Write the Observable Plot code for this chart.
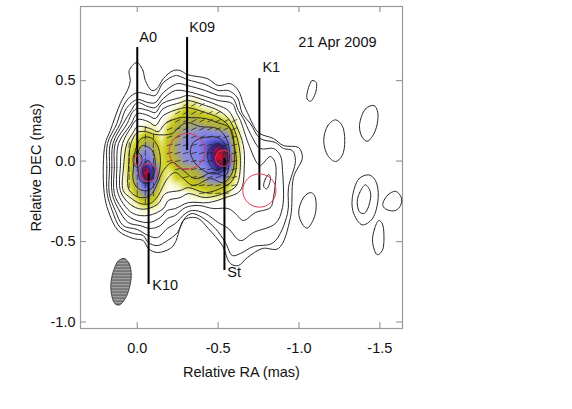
<!DOCTYPE html>
<html><head><meta charset="utf-8">
<script src="https://cdn.jsdelivr.net/npm/d3@7"></script>
<script src="https://cdn.jsdelivr.net/npm/@observablehq/plot@0.6"></script>
<style>html,body{margin:0;padding:0;background:#fff}</style>
</head><body><div id="chart"></div>
<script>
// Contours: [RA mas, DEC mas]
const c1=[[.002,.612],[-.035,.562],[-.05,.5],[-.091,.438],[-.122,.45],[-.161,.512],[-.223,.562],[-.266,.562],[-.31,.537],[-.433,.512],[-.501,.469],[-.576,.481],[-.625,.438],[-.656,.357],[-.681,.301],[-.749,.177],[-.842,.14],[-.904,.096],[-.997,.084],[-1.021,.022],[-.966,-.102],[-.947,-.351],[-.873,-.543],[-.774,-.543],[-.681,-.599],[-.625,-.649],[-.576,-.637],[-.526,-.525],[-.439,-.419],[-.378,-.357],[-.328,-.351],[-.285,-.369],[-.235,-.506],[-.204,-.543],[-.124,-.568],[-.068,-.543],[-.037,-.494],[.025,-.481],[.118,-.432],[.18,-.307],[.204,-.202],[.21,-.028],[.198,.109],[.167,.189],[.105,.357],[.056,.45],[.043,.5],[.05,.562]];
const c2=[[.186,-.202],[.188,-.04],[.184,.109],[.126,.233],[.099,.314],[.056,.388],[0,.425],[-.068,.413],[-.111,.407],[-.161,.487],[-.235,.531],[-.266,.525],[-.31,.506],[-.421,.475],[-.501,.438],[-.563,.438],[-.619,.394],[-.65,.295],[-.699,.233],[-.761,.14],[-.854,.115],[-.904,.078],[-.959,.065],[-.978,.003],[-.935,-.165],[-.929,-.326],[-.842,-.506],[-.718,-.531],[-.638,-.574],[-.588,-.587],[-.545,-.506],[-.483,-.419],[-.402,-.351],[-.34,-.326],[-.297,-.351],[-.248,-.444],[-.186,-.494],[-.124,-.525],[-.068,-.506],[-.037,-.463],[.025,-.45],[.105,-.413],[.155,-.307]];
const c3=[[.173,-.202],[.171,-.04],[.167,.109],[.105,.233],[.068,.326],[0,.382],[-.068,.363],[-.111,.363],[-.161,.425],[-.248,.481],[-.31,.469],[-.421,.438],[-.501,.407],[-.588,.394],[-.625,.314],[-.656,.264],[-.699,.171],[-.761,.078],[-.842,.078],[-.885,.034],[-.898,-.059],[-.898,-.289],[-.854,-.388],[-.718,-.444],[-.638,-.494],[-.563,-.419],[-.501,-.382],[-.421,-.326],[-.34,-.307],[-.297,-.326],[-.235,-.388],[-.186,-.419],[-.124,-.475],[-.068,-.463],[0,-.425],[.087,-.401],[.136,-.307]];
const c4=[[.155,-.202],[.157,-.04],[.15,.109],[.087,.233],[.037,.314],[0,.363],[-.068,.338],[-.111,.332],[-.161,.388],[-.235,.438],[-.31,.432],[-.421,.401],[-.501,.376],[-.588,.357],[-.613,.301],[-.638,.252],[-.687,.109],[-.743,-.016],[-.761,-.028],[-.823,.028],[-.854,-.016],[-.842,-.227],[-.823,-.289],[-.73,-.32],[-.656,-.369],[-.607,-.326],[-.563,-.295],[-.47,-.295],[-.378,-.276],[-.297,-.289],[-.235,-.338],[-.186,-.357],[-.142,-.401],[-.08,-.419],[-.019,-.401],[.056,-.382],[.118,-.295]];
const c5=[[.142,-.202],[.142,-.04],[.136,.109],[.062,.233],[.031,.301],[0,.326],[-.068,.314],[-.111,.301],[-.155,.357],[-.266,.394],[-.31,.407],[-.421,.376],[-.501,.345],[-.563,.314],[-.613,.22],[-.656,.096],[-.662,-.028],[-.638,-.183],[-.545,-.227],[-.439,-.258],[-.316,-.258],[-.235,-.295],[-.186,-.307],[-.142,-.351],[-.068,-.382],[.043,-.351],[.099,-.289]];
const c6=[[.124,-.183],[.126,-.04],[.116,.109],[.037,.233],[0,.295],[-.068,.283],[-.111,.264],[-.161,.326],[-.266,.363],[-.31,.376],[-.421,.345],[-.501,.314],[-.563,.264],[-.613,.158],[-.638,.003],[-.613,-.152],[-.545,-.196],[-.421,-.227],[-.316,-.202],[-.266,-.227],[-.192,-.245],[-.161,-.295],[-.068,-.338],[.025,-.326],[.087,-.264]];
const c7=[[.105,-.183],[.105,-.04],[.091,.109],[.043,.202],[0,.258],[-.068,.245],[-.111,.22],[-.161,.283],[-.266,.326],[-.31,.332],[-.421,.301],[-.501,.27],[-.563,.22],[-.6,.096],[-.613,-.028],[-.588,-.121],[-.526,-.165],[-.421,-.196],[-.316,-.165],[-.266,-.183],[-.173,-.202],[-.13,-.264],[-.068,-.295],[-.006,-.295],[.056,-.258]];
const c8=[[.087,-.183],[.085,-.04],[.064,.109],[.025,.177],[0,.214],[-.08,.202],[-.13,.183],[-.173,.233],[-.266,.27],[-.31,.27],[-.421,.264],[-.495,.239],[-.576,.202],[-.6,.053],[-.588,-.071],[-.532,-.134],[-.452,-.109],[-.347,-.152],[-.285,-.109],[-.235,-.071],[-.186,-.109],[-.155,-.165],[-.13,-.214],[-.08,-.264],[-.019,-.264],[.043,-.227]];
const c9=[[.056,-.165],[.054,-.04],[.039,.109],[0,.177],[-.05,.183],[-.111,.165],[-.217,.171],[-.254,.208],[-.31,.239],[-.39,.214],[-.495,.202],[-.557,.127],[-.569,.003],[-.545,-.09],[-.464,-.071],[-.359,-.109],[-.285,-.059],[-.217,-.009],[-.161,-.059],[-.124,-.14],[-.08,-.214],[-.019,-.227],[.031,-.202]];
const c10=[[.025,-.121],[.023,-.04],[.012,.065],[-.025,.14],[-.08,.146],[-.13,.084],[-.142,-.028],[-.111,-.14],[-.068,-.183],[-.006,-.171]];
const c11=[[-.006,-.059],[0,.034],[-.031,.096],[-.093,.065],[-.111,-.028],[-.093,-.109],[-.056,-.14],[-.019,-.121]];
const a0Ring=[[0,.053],[-.025,.034],[-.025,-.016],[0,-.04],[.022,-.016],[.022,.034]];
const k10Ring=[[-.037,-.028],[-.068,.003],[-.099,-.059],[-.08,-.121],[-.05,-.109]];
const r1=[[-.39,.14],[-.501,.146],[-.551,.084],[-.551,-.028],[-.514,-.071],[-.452,-.078],[-.371,-.028],[-.328,.053],[-.347,.115]];
const r2=[[-.439,.065],[-.501,.109],[-.539,.065],[-.539,-.016],[-.501,-.059],[-.452,-.028]];
const r3=[[-.483,.053],[-.52,.078],[-.532,.034],[-.52,-.016],[-.489,.003]];
const e1=[[-1.106,.489],[-1.081,.5],[-1.054,.438],[-1.05,.386],[-1.071,.371],[-1.096,.407],[-1.108,.45]];
const e2=[[-1.226,.256],[-1.178,.22],[-1.153,.127],[-1.178,.034],[-1.226,-.003],[-1.267,.034],[-1.283,.127],[-1.267,.22]];
const e3=[[-1.463,.345],[-1.411,.324],[-1.374,.22],[-1.391,.148],[-1.422,.123],[-1.463,.169],[-1.487,.252],[-1.484,.314]];
const e4=[[-1.071,-.196],[-1.029,-.225],[-.998,-.318],[-1.02,-.39],[-1.05,-.417],[-1.091,-.359],[-1.106,-.287],[-1.096,-.214]];
const e5=[[-1.432,-.086],[-1.37,-.111],[-1.329,-.235],[-1.339,-.328],[-1.391,-.396],[-1.453,-.359],[-1.49,-.225],[-1.473,-.121]];
const e6=[[-1.411,-.148],[-1.376,-.194],[-1.36,-.256],[-1.376,-.318],[-1.405,-.324],[-1.432,-.276],[-1.442,-.194]];
const e7=[[-1.597,-.188],[-1.546,-.214],[-1.518,-.276],[-1.546,-.303],[-1.597,-.307],[-1.628,-.276],[-1.632,-.225]];
const e8=[[-1.494,-.369],[-1.467,-.421],[-1.455,-.504],[-1.484,-.582],[-1.515,-.556],[-1.525,-.452],[-1.515,-.39]];
const k1Blob=[[-.813,-.084],[-.792,-.111],[-.782,-.158],[-.799,-.173],[-.817,-.142],[-.823,-.101]];
const contours=[c1,c2,c3,c4,c5,c6,c7,c8,c9,c10,c11,a0Ring,k10Ring,r1,r2,r3,e1,e2,e3,e4,e5,e6,e7,e8,k1Blob];

// Restoring beam outline
const beam=[[.08,-.605],[.05,-.637],[.037,-.711],[.05,-.792],[.074,-.854],[.111,-.894],[.139,-.885],[.161,-.817],[.161,-.742],[.142,-.668],[.115,-.618]];

// Polarized intensity read on a grid (0..10)
const gridRA=[.15,.1,.05,0,-.05,-.1,-.15,-.2,-.25,-.3,-.35,-.4,-.45,-.5,-.55,-.6,-.65];
const gridDEC=[.4,.35,.3,.25,.2,.15,.1,.05,0,-.05,-.1,-.15,-.2,-.25,-.3,-.35];
const polGrid=[
[0,0,0,0,0,0,0,0,0,0,0,0,0,0,0,0,0],
[0,0,0,0,0,0,0,0,0,1,1,0,0,0,0,0,0],
[0,0,0,0,0,0,0,0,1,2.5,2.5,1.5,1,.5,0,0,0],
[0,0,0,0,0,0,0,1,2.5,3,3,2.5,2.5,2.5,1.5,.5,0],
[0,0,0,0,.8,.5,0,2,3,3.5,3.5,4,3.5,3,3,1.5,0],
[0,0,.2,1,2.5,2,.3,2.5,3,4,4.5,5,5.5,5.5,5,2,.3],
[0,0,.8,2,3.5,3,1,2.5,3.5,4.5,5,5.5,7,8,7.5,2.5,.3],
[0,0,1.2,3,5,3.5,1.2,2.5,3.5,4.5,5,5.5,7.5,10,9,2.5,.3],
[0,0,1.5,4,6.5,4,1.2,2,3,4,4.5,5,7,9.5,9,2.5,.3],
[0,0,1.5,5,9.5,7,1.5,1,2.5,3,3,4,6,8,7,2,0],
[0,0,1.2,4.5,10,7,1.5,.5,2,2,2.5,3,4.5,5.5,4.5,1.2,0],
[0,0,1,3.5,7,5,1,0,.5,1.5,2,2.5,3,3,2.5,.5,0],
[0,0,.5,2.5,4.5,3,.3,0,0,0,.5,1,1.5,1.5,1,0,0],
[0,0,0,1,2.5,1.5,0,0,0,0,0,0,0,0,0,0,0],
[0,0,0,0,.5,.3,0,0,0,0,0,0,0,0,0,0,0],
[0,0,0,0,0,0,0,0,0,0,0,0,0,0,0,0,0]];
const colorStops=[0,.6,1.8,3,4,5.5,7,8,9,10];
const colorRange=["#ffffff","#f2f2b0","#cccc10","#aeae48","#9090d8","#7c7ce8","#4c4cc4","#1c1c80","#c01048","#e80018"];

// EVPA ticks: rows of RA at a DEC, with position angle
const evpaRows=[
{dec:.35,angle:60,ra:[-.3,-.35,-.4]},
{dec:.3,angle:60,ra:[-.25,-.3,-.35,-.4,-.45,-.5]},
{dec:.25,angle:62,ra:[-.2,-.25,-.3,-.35,-.4,-.45,-.5,-.55,-.6]},
{dec:.2,angle:65,ra:[-.2,-.25,-.3,-.35,-.4,-.45,-.5,-.55,-.6]},
{dec:.15,angle:70,ra:[-.2,-.25,-.3,-.35,-.4,-.45,-.5,-.55,-.6]},
{dec:.1,angle:74,ra:[-.2,-.25,-.3,-.35,-.4,-.45,-.5,-.55,-.6]},
{dec:.05,angle:75,ra:[-.2,-.25,-.3,-.35,-.4,-.45,-.5,-.55,-.6]},
{dec:0,angle:76,ra:[-.2,-.25,-.3,-.35,-.4,-.45,-.5,-.55,-.6]},
{dec:-.05,angle:76,ra:[-.25,-.3,-.35,-.4,-.45,-.5,-.55,-.6]},
{dec:-.1,angle:78,ra:[-.3,-.35,-.4,-.45,-.5,-.55,-.6]},
{dec:-.15,angle:80,ra:[-.35,-.4,-.45,-.5,-.55,-.6]},
{dec:-.2,angle:85,ra:[-.4,-.45,-.5,-.55]},
{dec:.2,angle:8,ra:[-.05]},
{dec:.15,angle:5,ra:[0,-.05,-.1]},
{dec:.1,angle:5,ra:[.05,0,-.05,-.1]},
{dec:.05,angle:3,ra:[.05,0,-.05,-.1]},
{dec:0,angle:2,ra:[.05,0,-.05,-.1]},
{dec:-.05,angle:0,ra:[.05,0,-.05,-.1]},
{dec:-.1,angle:0,ra:[.05,0,-.05,-.1]},
{dec:-.15,angle:0,ra:[.05,0,-.05,-.1]},
{dec:-.2,angle:0,ra:[0,-.05,-.1]},
{dec:-.25,angle:0,ra:[-.05]}];

// Components
const compNames=["A0","K10","K09","St","K1"];
const compRA=[0,-.07,-.308,-.534,-.755];
const compDEC=[.007,-.07,.061,.017,-.183];
const compRadius=[.025,.056,.111,.05,.103];

// Component leader lines
const leadRA=[0,-.07,-.308,-.539,-.755];
const leadTop=[.705,-.078,.767,.016,.512];
const leadBottom=[-.028,-.767,.065,-.68,-.183];

// Labels
const labelRA=[-.012,-.093,-.322,-.557,-.774];
const labelDEC=[.767,-.773,.83,-.693,.581];
const dateLabel="21 Apr 2009";
const dateRA=-.996, dateDEC=.735;

const xTicks=[0,-.5,-1,-1.5];
const yTicks=[.5,0,-.5,-1];
const xDomain=[.351,-1.64], yDomain=[-1.04,.96];
const tickLenY=.037, tickLenX=.037;

const contourData=contours.flatMap((c,id)=>c.map(([ra,dec])=>({ra,dec,id})));
const rasterData=polGrid.flatMap((row,i)=>row.map((v,j)=>({ra:gridRA[j],dec:gridDEC[i],v})));
const evpa=evpaRows.flatMap(r=>r.ra.map(ra=>({ra,dec:r.dec,angle:r.angle})));
const beamData=beam.map(([ra,dec])=>({ra,dec}));
const comps=compNames.map((n,i)=>({n,ra:compRA[i],dec:compDEC[i],r:compRadius[i]}));
const leads=compNames.map((n,i)=>({ra:leadRA[i],top:leadTop[i],bottom:leadBottom[i]}));
const labels=compNames.map((n,i)=>({n,ra:labelRA[i],dec:labelDEC[i]}));
const fmt=d=>d.toFixed(1);
const spike={draw(ctx,l){ctx.moveTo(0,0);ctx.lineTo(0,-l);}};
const ink="#111";

const svg=Plot.plot({
  width:572,height:409,marginLeft:80,marginRight:170,marginTop:6,marginBottom:81,
  style:{fontFamily:"'Liberation Sans',Arial,sans-serif",fontSize:"14.5px",background:"#fff",color:ink},
  x:{domain:xDomain},y:{domain:yDomain},
  r:{type:"linear",domain:[0,1],range:[0,161.5]},
  color:{type:"linear",domain:colorStops,range:colorRange,interpolate:"rgb",clamp:true},
  marks:[
    Plot.raster(rasterData,{x:"ra",y:"dec",fill:"v",interpolate:"barycentric",pixelSize:1,
      x1:gridRA[0],x2:gridRA[gridRA.length-1],y1:gridDEC[gridDEC.length-1],y2:gridDEC[0],className:"pol"}),
    Plot.frame({stroke:"#9a9a9a",strokeWidth:1.2}),
    Plot.ruleX(xTicks,{x:d=>d,y1:yDomain[0],y2:yDomain[0]+tickLenY,stroke:"#9a9a9a",strokeWidth:1.2}),
    Plot.ruleX(xTicks,{x:d=>d,y1:yDomain[1],y2:yDomain[1]-tickLenY,stroke:"#9a9a9a",strokeWidth:1.2}),
    Plot.ruleY(yTicks,{y:d=>d,x1:xDomain[0],x2:xDomain[0]-tickLenX,stroke:"#9a9a9a",strokeWidth:1.2}),
    Plot.ruleY(yTicks,{y:d=>d,x1:xDomain[1],x2:xDomain[1]+tickLenX,stroke:"#9a9a9a",strokeWidth:1.2}),
    Plot.axisX({ticks:xTicks,tickSize:0,tickPadding:14,tickFormat:fmt,label:"Relative RA (mas)",labelAnchor:"center",labelOffset:48,labelArrow:"none"}),
    Plot.axisY({ticks:yTicks,tickSize:0,tickPadding:5,tickFormat:fmt,label:"Relative DEC (mas)",labelAnchor:"center",labelOffset:50,labelArrow:"none"}),
    Plot.vector(evpa,{x:"ra",y:"dec",rotate:"angle",length:5,anchor:"middle",shape:spike,stroke:"#222",strokeWidth:.7}),
    Plot.line(contourData,{x:"ra",y:"dec",z:"id",curve:"catmull-rom-closed",stroke:"#2a2a2a",strokeWidth:1}),
    Plot.line(beamData,{x:"ra",y:"dec",curve:"catmull-rom-closed",fill:"url(#beamHatch)",stroke:"#444",strokeWidth:1}),
    Plot.ruleX(leads,{x:"ra",y1:"bottom",y2:"top",stroke:"#000",strokeWidth:2}),
    Plot.dot(comps,{x:"ra",y:"dec",r:"r",stroke:"#e23a55",strokeWidth:1,fill:"none"}),
    Plot.text(labels,{x:"ra",y:"dec",text:"n",textAnchor:"start",fontSize:14.5,fill:ink}),
    Plot.text([dateLabel],{x:dateRA,y:dateDEC,textAnchor:"start",fontSize:14.5,fill:ink})
  ]
});
const ns="http://www.w3.org/2000/svg";
const defs=document.createElementNS(ns,"defs");
defs.innerHTML='<pattern id="beamHatch" patternUnits="userSpaceOnUse" width="4" height="3"><rect width="4" height="3" fill="#a8a8a8"/><rect y="0" width="4" height="1.2" fill="#555"/></pattern>';
svg.insertBefore(defs,svg.firstChild);
const img=svg.querySelector("image");
if(img) img.style.filter="blur(1.8px)";
document.getElementById("chart").appendChild(svg);
</script></body></html>
